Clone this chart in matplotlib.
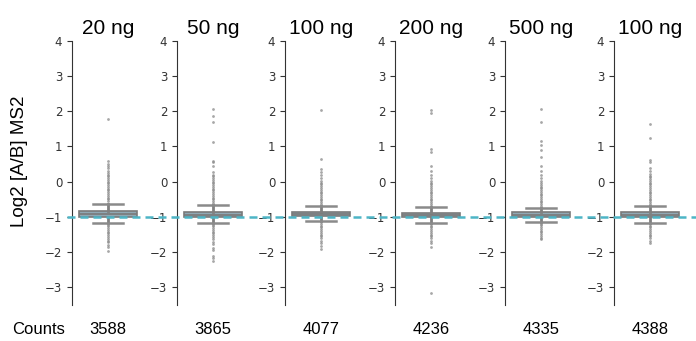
import matplotlib
matplotlib.use("Agg")
import matplotlib.pyplot as plt
from matplotlib.lines import Line2D
from matplotlib import transforms

# panel titles and counts
titles = ["20 ng", "50 ng", "100 ng", "200 ng", "500 ng", "100 ng"]
counts = [3588, 3865, 4077, 4236, 4335, 4388]

# box stats
q1 = [-0.99, -0.99, -0.97, -0.99, -0.99, -0.99]
q3 = [-0.82, -0.86, -0.86, -0.89, -0.86, -0.86]
med = [-0.93, -0.94, -0.93, -0.95, -0.94, -0.94]
whislo = [-1.17, -1.18, -1.11, -1.16, -1.15, -1.16]
whishi = [-0.62, -0.65, -0.68, -0.73, -0.74, -0.68]

# outliers (approximate)
fliers_20 = [-0.55, -0.5, -0.45, -0.4, -0.35, -0.3, -0.25, -0.2, -0.15, -0.1, -0.05, 0.0,
             0.05, 0.1, 0.15, 0.2, 0.25, 0.3, 0.38, 0.45, 0.5, 0.58, 1.78,
             -1.22, -1.27, -1.32, -1.37, -1.42, -1.47, -1.52, -1.57, -1.62, -1.67,
             -1.72, -1.8, -1.86, -1.97]
fliers_50 = [-0.6, -0.55, -0.5, -0.45, -0.4, -0.35, -0.3, -0.25, -0.2, -0.15, -0.1, -0.05,
             0.0, 0.05, 0.1, 0.15, 0.2, 0.27, 0.45, 0.55, 0.6, 1.12, 1.7, 1.87, 2.05,
             -1.22, -1.27, -1.32, -1.37, -1.42, -1.47, -1.52, -1.57, -1.62, -1.7,
             -1.78, -1.88, -1.95, -2.1, -2.18, -2.25]
fliers_100 = [-0.63, -0.58, -0.53, -0.48, -0.43, -0.38, -0.33, -0.28, -0.23, -0.18, -0.13,
              -0.08, -0.03, 0.02, 0.1, 0.2, 0.28, 0.35, 0.65, 2.02,
              -1.15, -1.2, -1.25, -1.3, -1.35, -1.4, -1.45, -1.5, -1.55, -1.6,
              -1.68, -1.75, -1.82, -1.9]
fliers_200 = [-0.68, -0.63, -0.58, -0.53, -0.48, -0.43, -0.38, -0.33, -0.28, -0.23, -0.18,
              -0.13, -0.08, -0.03, 0.02, 0.1, 0.2, 0.3, 0.45, 0.85, 0.92, 1.95, 2.03,
              -1.2, -1.25, -1.3, -1.35, -1.4, -1.45, -1.5, -1.55, -1.6, -1.68, -1.75,
              -1.85, -3.15]
fliers_500 = [-0.69, -0.64, -0.59, -0.54, -0.49, -0.44, -0.39, -0.34, -0.29, -0.24, -0.19,
              -0.14, -0.09, -0.04, 0.01, 0.1, 0.2, 0.3, 0.45, 0.7, 0.9, 1.05, 1.15, 1.7, 2.07,
              -1.19, -1.24, -1.29, -1.34, -1.39, -1.44, -1.49, -1.54, -1.59, -1.63]
fliers_100b = [-0.63, -0.58, -0.53, -0.48, -0.43, -0.38, -0.33, -0.28, -0.23, -0.18, -0.13,
               -0.08, -0.03, 0.02, 0.07, 0.12, 0.17, 0.22, 0.3, 0.38, 0.55, 0.62, 1.25, 1.65,
               -1.2, -1.25, -1.3, -1.35, -1.4, -1.45, -1.5, -1.55, -1.6, -1.67, -1.73]
fliers = [fliers_20, fliers_50, fliers_100, fliers_200, fliers_500, fliers_100b]

lefts = [72, 177, 285, 395, 505, 614]  # left spine, pixels

W, H = 696, 341
fig = plt.figure(figsize=(W / 100, H / 100), dpi=100)

ax_bot = 1 - 305 / H
ax_top = 1 - 40.7 / H
axes = []
for i in range(6):
    ax = fig.add_axes([lefts[i] / W, ax_bot, 72 / W, ax_top - ax_bot])
    stats = [{
        "med": med[i], "q1": q1[i], "q3": q3[i],
        "whislo": whislo[i], "whishi": whishi[i], "fliers": fliers[i],
    }]
    ax.bxp(stats, positions=[0], widths=0.8, patch_artist=True, capwidths=0.42,
           boxprops=dict(facecolor="#90a8b4", edgecolor="#7a7a7a", linewidth=1.2),
           medianprops=dict(color="#7a7a7a", linewidth=1.2),
           whiskerprops=dict(color="#808080", linewidth=2),
           capprops=dict(color="#8a8a8a", linewidth=1.8),
           flierprops=dict(marker="o", markersize=2.0, markerfacecolor="#8a8a8a",
                           markeredgewidth=0, alpha=0.75))
    ax.set_xlim(-0.5, 0.5)
    ax.set_ylim(-3.5, 4)
    ax.set_yticks([-3, -2, -1, 0, 1, 2, 3, 4])
    ax.set_xticks([])
    ax.patch.set_visible(False)
    for s in ["top", "right", "bottom"]:
        ax.spines[s].set_visible(False)
    ax.spines["left"].set_color("#333333")
    ax.tick_params(axis="y", labelsize=8.5, colors="#333333", length=3.5, width=0.8)
    ax.set_title(titles[i], fontsize=15, family="Liberation Sans", pad=5)
    fig.text((lefts[i] + 36) / W, 1 - 329 / H, str(counts[i]), ha="center", va="center",
             fontsize=12, family="Liberation Sans")
    axes.append(ax)

# reference line at -1 across all panels
tr = transforms.blended_transform_factory(fig.transFigure, axes[0].transData)
fig.add_artist(Line2D([67 / W, 1.0], [-1, -1], transform=tr, color="#4db5c6",
                      linewidth=1.8, linestyle=(0, (3.2, 2)), zorder=10))

fig.text(12 / W, 1 - 329 / H, "Counts", ha="left", va="center", fontsize=12,
         family="Liberation Sans")
fig.text(20 / W, 1 - 161 / H, "Log2 [A/B] MS2", rotation=90, ha="center", va="center",
         fontsize=13.5, family="Liberation Sans")

fig.savefig("out.png", dpi=100)
